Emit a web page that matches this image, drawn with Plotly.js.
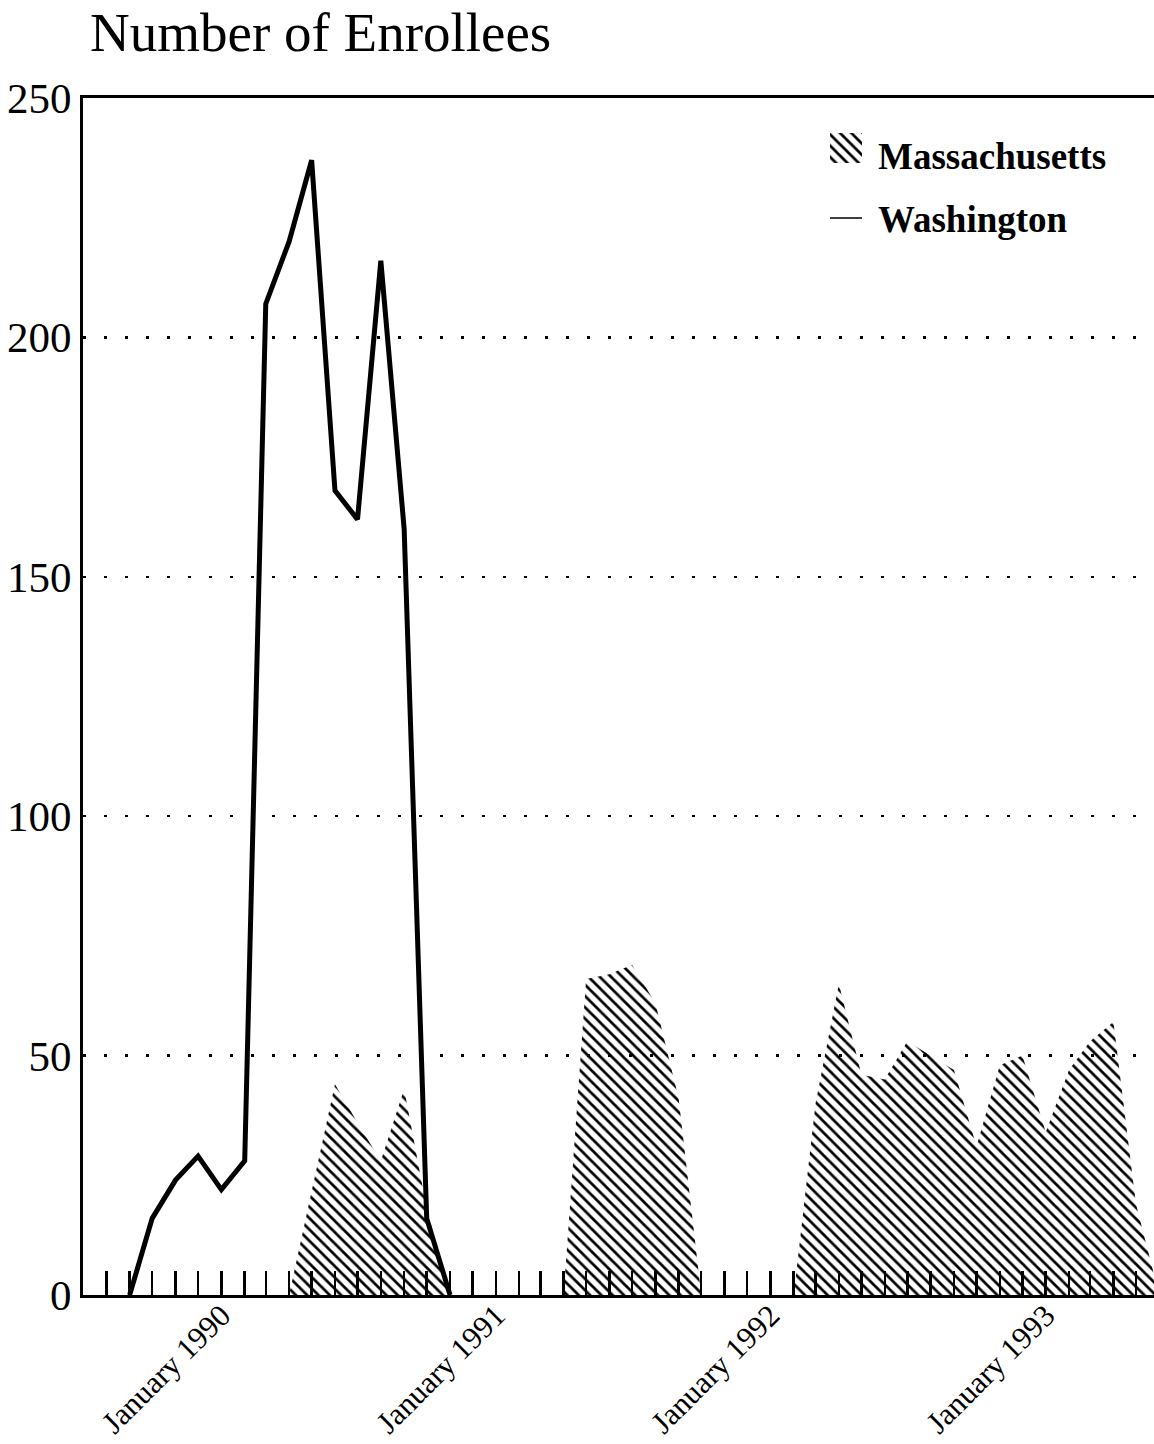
<!DOCTYPE html>
<html>
<head>
<meta charset="utf-8">
<script src="https://cdn.plot.ly/plotly-3.0.1.min.js"></script>
<style>html,body{margin:0;padding:0;background:#fff;}#chart{width:1154px;height:1444px;}</style>
</head>
<body>
<div id="chart"></div>
<script>
// Washington enrollees by month
const washMonths = ['1989-09-01','1989-10-01','1989-11-01','1989-12-01','1990-01-01','1990-02-01','1990-03-01','1990-04-01','1990-05-01','1990-06-01','1990-07-01','1990-08-01','1990-09-01','1990-10-01','1990-11-01'];
const washValues = [0,16,24,29,22,28,207,220,237,168,162,216,160,16,0];

// Massachusetts enrollees by month
const massMonths = ['1990-04-01','1990-05-01','1990-06-01','1990-07-01','1990-08-01','1990-09-01','1990-10-01','1990-11-01','1990-12-01','1991-01-01','1991-02-01','1991-03-01','1991-04-01','1991-05-01','1991-06-01','1991-07-01','1991-08-01','1991-09-01','1991-10-01','1991-11-01','1991-12-01','1992-01-01','1992-02-01','1992-03-01','1992-04-01','1992-05-01','1992-06-01','1992-07-01','1992-08-01','1992-09-01','1992-10-01','1992-11-01','1992-12-01','1993-01-01','1993-02-01','1993-03-01','1993-04-01','1993-05-01','1993-06-01'];
const massValues = [0,22,44,36,28,43,18,0,0,0,0,0,0,66,67,69,61,41,0,0,0,0,0,40,65,46,45,53,50,47,31,48,50,34,47,53,57,19,0];

const yTicks = [0,50,100,150,200,250];

const serif = 'Liberation Serif, Times New Roman, serif';

const traces = [
  {
    type: 'scatter', mode: 'lines', name: 'Massachusetts',
    x: massMonths, y: massValues,
    fill: 'tozeroy',
    fillcolor: 'rgba(0,0,0,0)',
    fillpattern: {shape: '\\', fgcolor: '#000', bgcolor: 'rgba(0,0,0,0)', size: 8, solidity: 0.34},
    line: {width: 0, color: '#000'},
    legendgroup: 'a'
  },
  {
    type: 'scatter', mode: 'lines', name: 'Washington',
    x: washMonths, y: washValues,
    line: {width: 5, color: '#000'},
    legendgroup: 'b'
  }
];

const layout = {
  width: 1154, height: 1444,
  margin: {l: 83, r: 0, t: 98, b: 149, pad: 0},
  paper_bgcolor: '#fff', plot_bgcolor: '#fff',
  font: {family: serif, color: '#000'},
  hovermode: false,
  title: {
    text: 'Number of Enrollees',
    font: {family: serif, size: 55, color: '#000'},
    xref: 'container', yref: 'container',
    x: 0.078, xanchor: 'left',
    y: 0.978, yanchor: 'middle'
  },
  xaxis: {
    type: 'date',
    range: ['1989-07-01', '1993-05-25'],
    showline: true, linewidth: 3, linecolor: '#000', mirror: true,
    showgrid: false, zeroline: false,
    ticks: 'inside', ticklen: 24, tickwidth: 2.5, tickcolor: '#000',
    tick0: '1990-01-01', dtick: 'M12', tickformat: '%B %Y',
    tickangle: -45,
    tickfont: {family: serif, size: 31, color: '#000'},
    ticklabelstandoff: -13,
    minor: {dtick: 'M1', tick0: '1989-08-01', ticks: 'inside', ticklen: 24, tickwidth: 2.5, tickcolor: '#000', showgrid: false}
  },
  yaxis: {
    range: [0, 250],
    tickmode: 'array', tickvals: yTicks, ticktext: yTicks.map(String),
    showline: true, linewidth: 3, linecolor: '#000',
    ticks: '', zeroline: false,
    showgrid: true, gridcolor: '#000', gridwidth: 2.5, griddash: '3px,18px',
    tickfont: {family: serif, size: 43, color: '#000'},
    ticklabelstandoff: 0
  },
  showlegend: true,
  legend: {
    x: 0.6956, y: 0.978, xanchor: 'left', yanchor: 'top',
    bgcolor: 'rgba(0,0,0,0)',
    font: {family: serif, size: 37, color: '#000', weight: 'bold'},
    traceorder: 'grouped', tracegroupgap: 12,
    itemwidth: 40
  }
};

const gd = document.getElementById('chart');
Plotly.newPlot(gd, traces, layout, {staticPlot: true, displayModeBar: false}).then(function () {
  // enlarge the legend swatches to match the printed key
  const items = gd.querySelectorAll('.legend .traces');
  if (items[0]) {
    const f = items[0].querySelector('.legendfill path');
    if (f) f.setAttribute('d', 'M2,-22h32v30h-32z');
  }
  if (items[1]) {
    const l = items[1].querySelector('.legendlines path');
    if (l) { l.setAttribute('d', 'M2,0h32'); l.style.strokeWidth = '1.5px'; }
  }
});
</script>
</body>
</html>
